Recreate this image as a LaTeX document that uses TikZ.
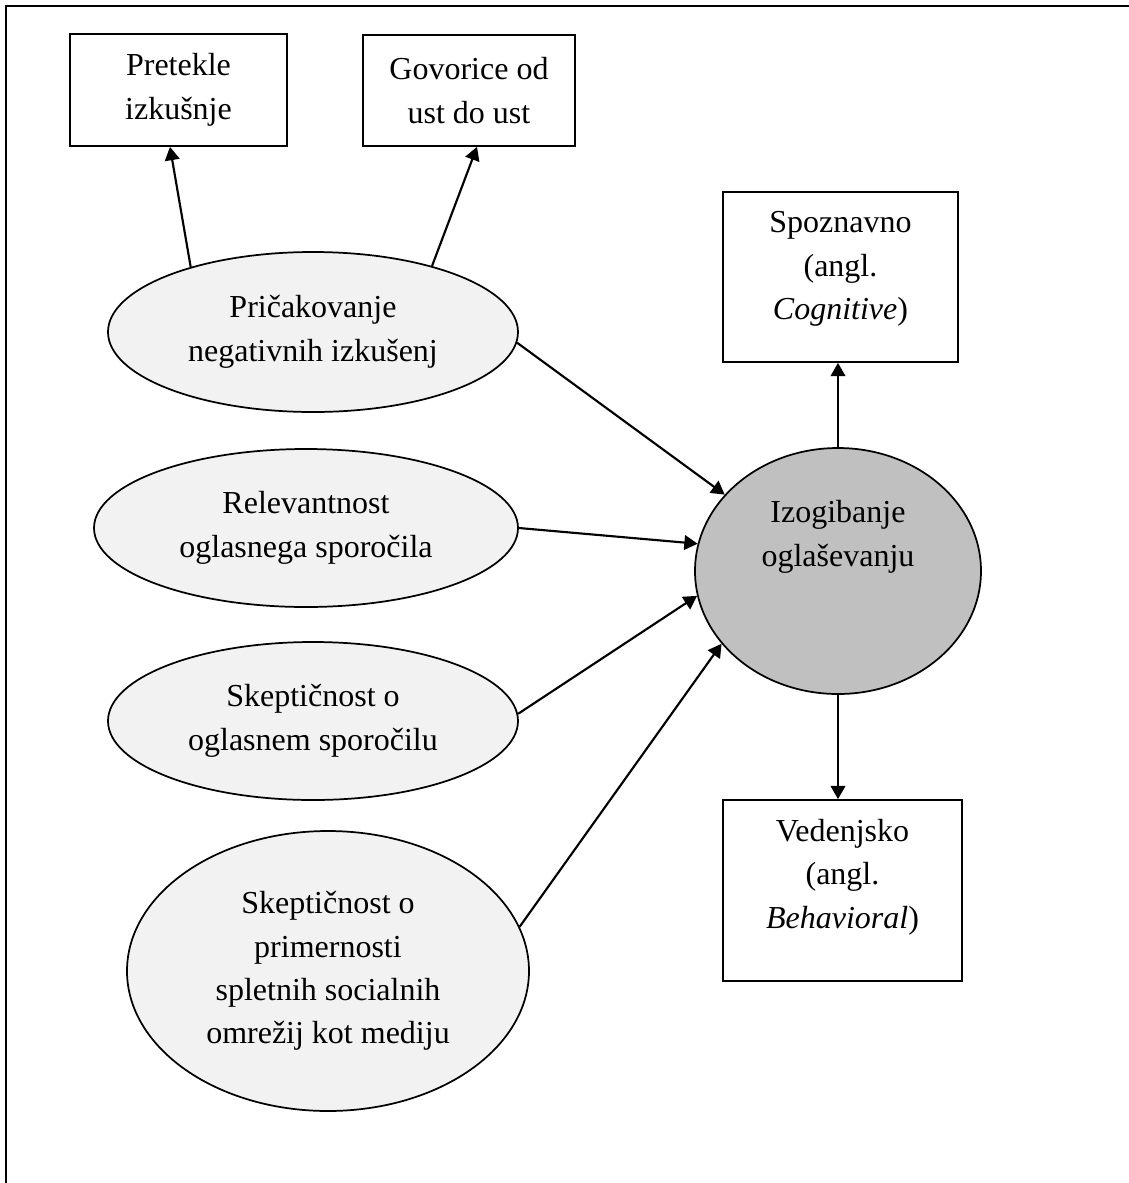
\documentclass[tikz,border=0pt]{standalone}
\usepackage{fontspec}
\setmainfont{Liberation Serif}
\usetikzlibrary{arrows.meta,shapes.geometric,calc}
\newlength\pxu
\setlength\pxu{0.75pt}
\definecolor{ovalfill}{HTML}{F2F2F2}
\definecolor{circfill}{HTML}{C0C0C0}
\begin{document}
\begin{tikzpicture}[x=0.75pt,y=-0.75pt,
  every node/.style={font=\fontsize{24}{32.6}\selectfont, align=center, inner sep=0pt},
  boxnode/.style={draw, rectangle, line width=1.3pt, fill=white},
  oval/.style={draw, ellipse, line width=1.3pt, fill=ovalfill},
  centralnode/.style={draw, ellipse, line width=1.3pt, fill=circfill},
  txt/.style={},
  link/.style={line width=1.6pt, -{Triangle[length=10pt,width=11pt]}},
  frameline/.style={line width=1.7pt}
]
\useasboundingbox (0,0) rectangle (1129,1183);

% frame (top and left)
\coordinate (ftl) at (6,6);
\coordinate (ftr) at (1129,6);
\coordinate (fbl) at (6,1183);
\draw[frameline] (ftr) -- (ftl) -- (fbl);

% boxes
\node[boxnode, minimum width=217\pxu, minimum height=112\pxu] (b1) at (178.5,90) {Pretekle\\izkušnje};
\node[boxnode, minimum width=212\pxu, minimum height=111\pxu] (b2) at (469,90.5) {Govorice od\\ust do ust};
\node[boxnode, minimum width=235\pxu, minimum height=170\pxu] (b3) at (840.5,277) {};
\node[txt] (t3) at (840.5,269) {Spoznavno\\(angl.\\\textit{Cognitive})};
\node[boxnode, minimum width=239\pxu, minimum height=181\pxu] (b4) at (842.5,890.5) {};
\node[txt] (t4) at (842.5,877) {Vedenjsko\\(angl.\\\textit{Behavioral})};

% ovals
\node[oval, minimum width=410\pxu, minimum height=160\pxu] (e1) at (313,332) {Pričakovanje\\negativnih izkušenj};
\node[oval, minimum width=424\pxu, minimum height=158\pxu] (e2) at (306,528) {Relevantnost\\oglasnega sporočila};
\node[oval, minimum width=410\pxu, minimum height=158\pxu] (e3) at (313,721) {Skeptičnost o\\oglasnem sporočilu};
\node[oval, minimum width=402\pxu, minimum height=280\pxu] (e4) at (328,971) {Skeptičnost o\\primernosti\\spletnih socialnih\\omrežij kot mediju};

% central
\node[centralnode, minimum width=286\pxu, minimum height=246\pxu] (c) at (838,571) {};
\node[txt] (ct) at (838,537) {Izogibanje\\oglaševanju};

% connectors
\draw[link] (e1.152) -- ([xshift=-6.4pt]b1.south);
\draw[link] (e1.29.5) -- ([xshift=6pt]b2.south);
\draw[link] (e1.-3) -- (c.146.8);
\draw[link] (e2.-0.5) -- (c.169);
\draw[link] (e3.2.5) -- (c.190.3);
\draw[link] (e4.13.6) -- (c.212.2);
\draw[link] (c.north) -- (c.north |- b3.south);
\draw[link] (c.south) -- (c.south |- b4.north);
\end{tikzpicture}
\end{document}
